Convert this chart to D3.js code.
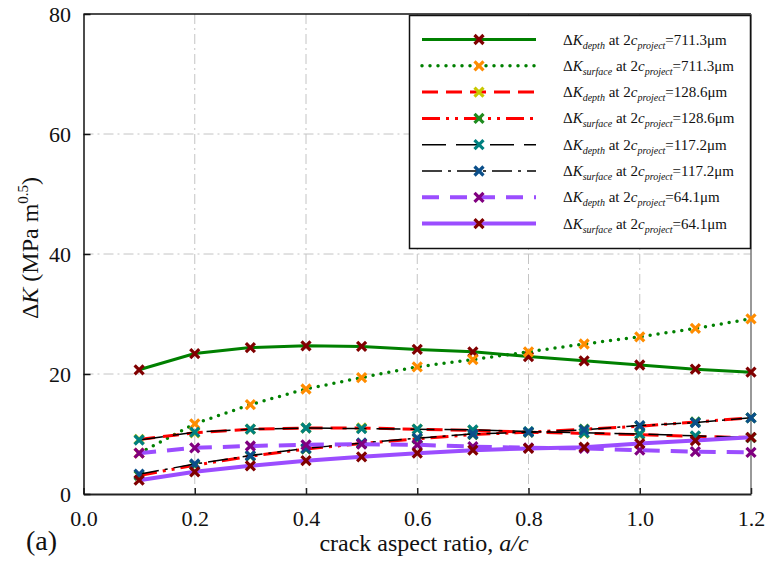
<!DOCTYPE html>
<html lang="en">
<head>
<meta charset="UTF-8">
<title>crack aspect ratio</title>
<style>
  html, body { margin: 0; padding: 0; background: #fff; }
  svg { display: block; }
</style>
</head>
<body>
<div id="main"></div>
<script src="https://d3js.org/d3.v7.min.js"></script>
<script>
// ---------- data ----------
const aspectRatio = [0.1, 0.2, 0.3, 0.4, 0.5, 0.6, 0.7, 0.8, 0.9, 1.0, 1.1, 1.2]
const depth711   = [20.7, 23.4, 24.4, 24.7, 24.6, 24.1, 23.7, 22.9, 22.2, 21.5, 20.8, 20.3]
const surface711 = [6.8, 11.7, 14.9, 17.5, 19.4, 21.2, 22.4, 23.7, 25.0, 26.2, 27.6, 29.2]
const depth128   = [9.1, 10.2, 10.8, 11.0, 11.0, 10.8, 10.6, 10.3, 10.1, 9.9, 9.6, 9.4]
const surface128 = [3.1, 4.8, 6.3, 7.5, 8.4, 9.2, 9.9, 10.3, 10.8, 11.3, 12.0, 12.7]
const depth117   = [9.0, 10.3, 10.8, 11.0, 10.9, 10.8, 10.7, 10.4, 10.2, 10.0, 9.7, 9.4]
const surface117 = [3.3, 5.0, 6.4, 7.6, 8.5, 9.3, 10.0, 10.3, 10.7, 11.4, 11.9, 12.7]
const depth64    = [6.8, 7.7, 8.0, 8.2, 8.3, 8.2, 7.9, 7.7, 7.6, 7.3, 7.05, 6.95]
const surface64  = [2.3, 3.7, 4.7, 5.55, 6.2, 6.8, 7.3, 7.6, 7.8, 8.4, 8.9, 9.45]
const xTicks = [0, 0.2, 0.4, 0.6, 0.8, 1.0, 1.2]
const yTicks = [0, 20, 40, 60, 80]

// series: values + label parts + style
const series = [
  {values: depth711,   loc: 'depth',   size: '711.3', line: '#008000', width: 3,   dash: null,              cap: 'butt',  marker: '#800000'},
  {values: surface711, loc: 'surface', size: '711.3', line: '#008000', width: 3.5, dash: '0,8',             cap: 'round', marker: '#ff8c00'},
  {values: depth128,   loc: 'depth',   size: '128.6', line: '#ff0000', width: 3,   dash: '16,8',            cap: 'butt',  marker: '#c8c800'},
  {values: surface128, loc: 'surface', size: '128.6', line: '#ff0000', width: 3,   dash: '18,6,3,6,3,6',    cap: 'butt',  marker: '#1e8c1e'},
  {values: depth117,   loc: 'depth',   size: '117.2', line: '#000000', width: 1.5, dash: '24,10',           cap: 'butt',  marker: '#008080'},
  {values: surface117, loc: 'surface', size: '117.2', line: '#000000', width: 1.5, dash: '20,6,3,6',        cap: 'butt',  marker: '#0b4f8a'},
  {values: depth64,    loc: 'depth',   size: '64.1',  line: '#9b4dff', width: 4,   dash: '17,11',           cap: 'butt',  marker: '#800080'},
  {values: surface64,  loc: 'surface', size: '64.1',  line: '#9b4dff', width: 4,   dash: null,              cap: 'butt',  marker: '#800000'}
]

const serif = "'Liberation Serif'"

// ---------- container ----------
const width = 765
const height = 567
const svg = d3.select('#main').append('svg')
  .attr('width', width)
  .attr('height', height)
  .attr('viewBox', `0 0 ${width} ${height}`)

const plotLeft = 83.5, plotRight = 751, plotTop = 14, plotBottom = 494

const xScale = d3.scaleLinear().domain([0, 1.2]).range([plotLeft, plotRight])
const yScale = d3.scaleLinear().domain([0, 80]).range([plotBottom, plotTop])

// ---------- grid ----------
const grid = svg.append('g')
grid.selectAll('.vg').data(xTicks.filter(d => d > 0 && d < 1.2)).join('line')
  .attr('x1', d => xScale(d)).attr('x2', d => xScale(d))
  .attr('y1', plotTop).attr('y2', plotBottom)
  .attr('stroke', '#c4c4c4').attr('stroke-width', 1).attr('stroke-dasharray', '10,4,2,4')
grid.selectAll('.hg').data(yTicks.filter(d => d > 0 && d < 80)).join('line')
  .attr('x1', plotLeft).attr('x2', plotRight)
  .attr('y1', d => yScale(d)).attr('y2', d => yScale(d))
  .attr('stroke', '#c4c4c4').attr('stroke-width', 1).attr('stroke-dasharray', '10,4,2,4')

// frame top / right
svg.append('line').attr('x1', plotLeft).attr('x2', plotRight).attr('y1', plotTop).attr('y2', plotTop)
  .attr('stroke', '#111').attr('stroke-width', 1.5)
svg.append('line').attr('x1', plotRight).attr('x2', plotRight).attr('y1', plotTop).attr('y2', plotBottom)
  .attr('stroke', '#777').attr('stroke-width', 1.5)

// ---------- axes ----------
const xAxis = svg.append('g')
  .attr('transform', `translate(0 ${plotBottom})`)
  .call(d3.axisBottom(xScale).tickValues(xTicks).tickFormat(d3.format('.1f'))
    .tickSizeInner(-6).tickSizeOuter(0).tickPadding(16))
xAxis.select('.domain').attr('stroke', '#222').attr('stroke-width', 2)
xAxis.selectAll('.tick line').attr('stroke', '#222').attr('stroke-width', 1.5)
xAxis.selectAll('text').attr('font-size', 22).attr('fill', '#111').style('font-family', serif)

const yAxis = svg.append('g')
  .attr('transform', `translate(${plotLeft} 0)`)
  .call(d3.axisLeft(yScale).tickValues(yTicks).tickFormat(d3.format('d'))
    .tickSizeInner(-7).tickSizeOuter(0).tickPadding(12.5))
yAxis.select('.domain').attr('stroke', '#111').attr('stroke-width', 1.5)
yAxis.selectAll('.tick line').attr('stroke', '#111').attr('stroke-width', 1.5)
yAxis.selectAll('text').attr('font-size', 22).attr('fill', '#111').style('font-family', serif)

// ---------- series ----------
const lineGen = d3.line().x((d, i) => xScale(aspectRatio[i])).y(d => yScale(d))
const cross = 'M-4.5,-4.5L4.5,4.5M-4.5,4.5L4.5,-4.5'

series.forEach(s => {
  svg.append('path')
    .attr('d', lineGen(s.values))
    .attr('fill', 'none')
    .attr('stroke', s.line)
    .attr('stroke-width', s.width)
    .attr('stroke-linecap', s.cap)
    .attr('stroke-dasharray', s.dash)
  svg.append('g').selectAll('path').data(s.values).join('path')
    .attr('transform', (d, i) => `translate(${xScale(aspectRatio[i])} ${yScale(d)})`)
    .attr('d', cross)
    .attr('stroke', s.marker)
    .attr('stroke-width', 3.2)
    .attr('fill', 'none')
})

// ---------- legend ----------
const legend = svg.append('g')
legend.append('rect')
  .attr('x', 409.5).attr('y', 15.5).attr('width', 341).attr('height', 233)
  .attr('fill', '#fff').attr('stroke', '#111').attr('stroke-width', 1.5)

series.forEach((s, i) => {
  const y = 39.5 + i * 26.3
  const row = legend.append('g').attr('transform', `translate(0 ${y})`)
  row.append('line').attr('x1', 422).attr('x2', 536).attr('y1', 0).attr('y2', 0)
    .attr('stroke', s.line).attr('stroke-width', s.width)
    .attr('stroke-linecap', s.cap).attr('stroke-dasharray', s.dash)
  row.append('path').attr('transform', 'translate(479 0)').attr('d', cross)
    .attr('stroke', s.marker).attr('stroke-width', 3.2).attr('fill', 'none')
  const t = row.append('text').attr('x', 563).attr('y', 5).attr('font-size', 15).attr('fill', '#111')
    .style('font-family', serif)
  t.append('tspan').text('Δ')
  t.append('tspan').attr('font-style', 'italic').text('K')
  t.append('tspan').attr('font-style', 'italic').attr('font-size', 10).attr('dy', 4).text(s.loc)
  t.append('tspan').attr('dy', -4).text(' at 2')
  t.append('tspan').attr('font-style', 'italic').text('c')
  t.append('tspan').attr('font-style', 'italic').attr('font-size', 10).attr('dy', 4).text('project')
  t.append('tspan').attr('dy', -4).text('=' + s.size + 'μm')
})

// ---------- titles ----------
const xt = svg.append('text').attr('x', 424).attr('y', 551).attr('text-anchor', 'middle')
  .attr('font-size', 24).attr('fill', '#111').style('font-family', serif)
xt.append('tspan').text('crack aspect ratio, ')
xt.append('tspan').attr('font-style', 'italic').text('a/c')

const yt = svg.append('text').attr('transform', 'translate(37.5 248) rotate(-90)')
  .attr('text-anchor', 'middle').attr('font-size', 24).attr('fill', '#111').style('font-family', serif)
yt.append('tspan').text('Δ')
yt.append('tspan').attr('font-style', 'italic').text('K')
yt.append('tspan').text(' (MPa m')
yt.append('tspan').attr('font-size', 15).attr('dy', -10).text('0.5')
yt.append('tspan').attr('dy', 10).text(')')

svg.append('text').attr('x', 26).attr('y', 550).attr('font-size', 28).attr('fill', '#111')
  .style('font-family', serif).text('(a)')
</script>
</body>
</html>
